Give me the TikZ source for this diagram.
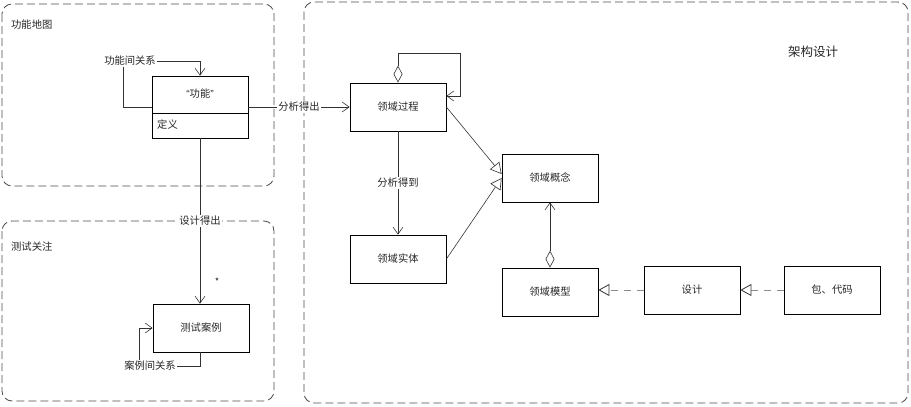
\documentclass[tikz,border=0pt]{standalone}
\usepackage{fontspec}
\newfontfamily\cjk{Noto Sans CJK SC}
\newfontfamily\latf{Liberation Sans}
\usetikzlibrary{arrows.meta,calc}
\begin{document}
\begin{tikzpicture}[x=1pt,y=-1pt,
  every node/.style={font=\cjk\fontsize{10.3}{12}\selectfont, inner sep=1pt, text=black!85},
  cls/.style={draw=black, line width=0.8pt, minimum width=96pt, minimum height=48pt, inner sep=0pt},
  grp/.style={draw=black!70, dash pattern=on 8pt off 4pt, rounded corners=10pt, line width=0.8pt},
  conn/.style={draw=black!80, line width=0.6pt},
  opena/.style={-{Straight Barb[length=7pt,width=10pt]}},
  gena/.style={-{Triangle[open,length=11pt,width=12pt,fill=white]}},
  diaopen/.style={{Diamond[open,length=17pt,width=9pt,fill=white]}-{Straight Barb[length=7pt,width=10pt]}},
  real/.style={draw=black!45, line width=0.8pt, dash pattern=on 7pt off 6pt, -{Triangle[open,length=11pt,width=12pt,fill=white,color=black!80]}},
  lbl/.style={fill=white, inner sep=1pt},
]
\useasboundingbox (0,0) rectangle (911,407);

% groups
\draw[grp] (2,4) rectangle (274,186);
\draw[grp] (2,221) rectangle (274,401);
\draw[grp] (304,2) rectangle (908,403);
\node[anchor=west] (gmap) at (10,25) {功能地图};
\node[anchor=west] (gtest) at (10,247) {测试关注};
\node (garch) at (813,52) {\fontsize{12.5}{14}\selectfont 架构设计};

% classes
\node[cls, minimum height=62pt] (fn) at (200,107) {};
\draw[line width=0.8pt] (fn.west |- 0,113) -- (fn.east |- 0,113);
\node (fnname) at (200,94) {{\latf “}功能{\latf ”}};
\node[anchor=west] (fndef) at (156,125) {定义};

\node[cls] (test) at (201,328) {测试案例};
\node[cls] (proc) at (398,107) {领域过程};
\node[cls] (entity) at (398,259) {领域实体};
\node[cls] (concept) at (550,178) {领域概念};
\node[cls] (model) at (550,292) {领域模型};
\node[cls] (design) at (692,290) {设计};
\node[cls] (pkg) at (832,290) {包、代码};

% function self relation
\draw[conn, opena] (fn.west) -- (123,107) -- (123,61) -- (200,61) -- (fn.north);
\node[lbl] (fnrel) at (130,61) {功能间关系};

% fn -> proc
\draw[conn, opena] (fn.east) -- (proc.west) node[midway, lbl] (l1) {分析得出};

% fn -> test
\draw[conn, opena] (fn.south) -- (fn.south |- test.north) node[midway, lbl] (l2) {设计得出};
\node (mult) at (217,282) {\fontsize{9.5}{10}\selectfont *};

% test self relation
\draw[conn, opena] (test.south -| fn.south) -- (200,366) -- (139,366) -- (139,328) -- (test.west);
\node[lbl] (testrel) at (150,366) {案例间关系};

% proc self aggregation
\draw[conn, diaopen] (proc.north) -- (398,53) -- (460,53) -- (460,96) -- (proc.east |- 0,96);

% proc -> entity
\draw[conn, opena] (proc.south) -- (entity.north) node[midway, lbl] (l3) {分析得到};

% generalizations
\draw[conn, gena] (proc.east) -- ($(concept.west)+(0,-4)$);
\draw[conn, gena] (entity.east) -- (concept.west);

% model -> concept
\draw[conn, diaopen] (model.north) -- (concept.south);

% realizations
\draw[real] (design.west) -- (design.west -| model.east);
\draw[real] (pkg.west) -- (design.east);
\end{tikzpicture}
\end{document}
